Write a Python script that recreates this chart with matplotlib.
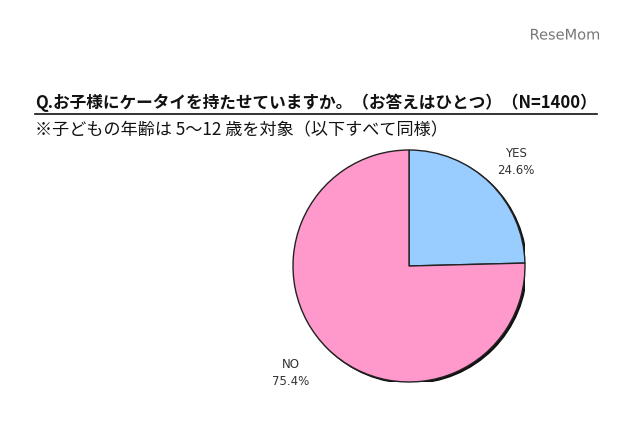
import matplotlib.pyplot as plt
from matplotlib.patches import Circle
from matplotlib.lines import Line2D
import matplotlib.patheffects as pe

plt.rcParams["font.family"] = ["Noto Sans CJK JP", "DejaVu Sans"]

labels = ["YES", "NO"]
values = [24.6, 75.4]
colors = ["#99ccff", "#ff99cc"]
title = "Q.お子様にケータイを持たせていますか。（お答えはひとつ）（N=1400）"
note = "※子どもの年齢は 5～12 歳を対象（以下すべて同様）"

fig = plt.figure(figsize=(6.4, 4.26), dpi=100)
fig.patch.set_facecolor("white")

# pie axes placed in pixel terms: centre (409, 266), radius 116
ax = fig.add_axes([293 / 640, 1 - 382 / 426, 232 / 640, 232 / 426])
ax.set_aspect("equal")
ax.axis("off")

ax.add_patch(Circle((0.015, -0.012), 1.0, color="#111111", zorder=0))
wedges, texts = ax.pie(values, colors=colors, startangle=90, counterclock=False,
                       labels=[f"{l}\n{v}%" for l, v in zip(labels, values)],
                       labeldistance=1.3,
                       wedgeprops=dict(edgecolor="#222222", linewidth=1.0),
                       textprops=dict(fontsize=8.5, color="#333333", family="DejaVu Sans",
                                      linespacing=1.4))
for t in texts:
    t.set_ha("center")
    t.set_clip_on(False)
texts[0].set_position((0.92, 0.9))
texts[1].set_position((-1.02, -0.92))
ax.set_xlim(-1, 1)
ax.set_ylim(-1, 1)

t1 = fig.text(35 / 640, 1 - 103 / 426, title, fontsize=12.0, fontweight="bold",
              va="center", ha="left", color="#111111")
fig.text(35 / 640, 1 - 130 / 426, note, fontsize=12.3, va="center", ha="left",
         color="#111111")

fig.canvas.draw()
bb = t1.get_window_extent().transformed(fig.transFigure.inverted())
fig.add_artist(Line2D([bb.x0, bb.x1], [bb.y0 - 0.004, bb.y0 - 0.004],
                      color="#111111", linewidth=1.2, transform=fig.transFigure))

fig.text(565 / 640, 1 - 35 / 426, "ReseMom", fontsize=10.5, color="#777777",
         ha="center", va="center", family="DejaVu Sans",
         path_effects=[pe.withStroke(linewidth=2, foreground="white")])

fig.savefig("out.png", dpi=100)
